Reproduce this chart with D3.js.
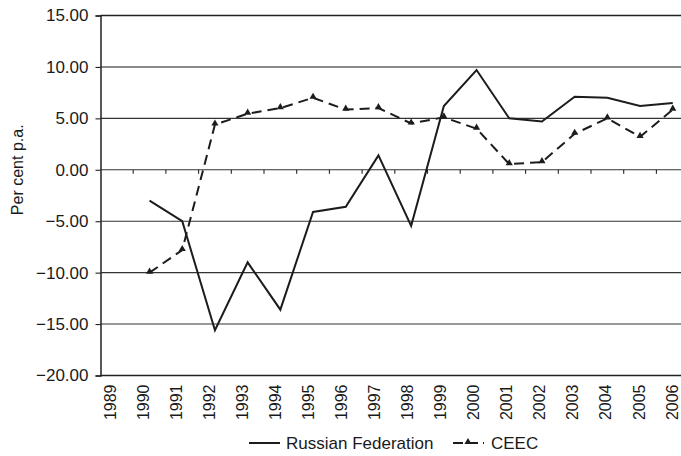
<!DOCTYPE html>
<html>
<head>
<meta charset="utf-8">
<script src="https://cdn.jsdelivr.net/npm/d3@7"></script>
<style>
  html, body { margin: 0; padding: 0; background: #fff; }
  svg { display: block; font-family: "Liberation Sans", Arial, Helvetica, sans-serif; }
</style>
</head>
<body>
<div id="chart"></div>
<script>
// Real GDP growth, per cent per year
const years = [1989, 1990, 1991, 1992, 1993, 1994, 1995, 1996, 1997, 1998,
               1999, 2000, 2001, 2002, 2003, 2004, 2005, 2006];
const russia = [null, -3.0, -5.0, -15.6, -9.0, -13.6, -4.1, -3.6, 1.4, -5.45,
                6.2, 9.7, 5.0, 4.7, 7.1, 7.0, 6.2, 6.5];
const ceec = [null, -10.0, -7.8, 4.4, 5.45, 6.0, 7.0, 5.85, 6.0, 4.5,
              5.1, 4.0, 0.55, 0.75, 3.5, 5.0, 3.2, 5.85];
const yTicks = [15, 10, 5, 0, -5, -10, -15, -20];
const seriesNames = ["Russian Federation", "CEEC"];

const W = 681, H = 456;
const plotLeft = 100.5, plotTop = 15.5, plotBottom = 375.5;
const step = 32.7;

const svg = d3.select("#chart").append("svg")
  .attr("width", W).attr("height", H);

const x = d3.scaleBand().domain(years)
  .range([plotLeft, plotLeft + step * years.length]).padding(0);
const cx = d => x(d) + x.bandwidth() / 2;
const xLabel = d3.scaleLinear().domain([years[0], years[years.length - 1]])
  .range([110, 672]);
const y = d3.scaleLinear().domain([-20, 15]).range([plotBottom, plotTop]);
const plotRight = x.range()[1];

// horizontal grid
svg.append("g").selectAll("line")
  .data(yTicks.filter(v => v !== 15 && v !== -20))
  .join("line")
  .attr("x1", plotLeft).attr("x2", plotRight)
  .attr("y1", d => y(d)).attr("y2", d => y(d))
  .attr("stroke", d => d === 10 ? "#8a8a8a" : "#333")
  .attr("stroke-width", d => d === 10 ? 2 : 1.1);

// frame: top and bottom lines
svg.append("line").attr("x1", plotLeft).attr("x2", plotRight)
  .attr("y1", y(15)).attr("y2", y(15)).attr("stroke", "#222").attr("stroke-width", 1.3);
svg.append("line").attr("x1", plotLeft).attr("x2", plotRight)
  .attr("y1", y(-20)).attr("y2", y(-20)).attr("stroke", "#222").attr("stroke-width", 1.3);

// y axis
const yAxis = d3.axisLeft(y).tickValues(yTicks).tickSize(5).tickPadding(7)
  .tickFormat(d => (d < 0 ? "\u2212" + d3.format(".2f")(-d) : d3.format(".2f")(d)));
const gy = svg.append("g").attr("transform", `translate(${plotLeft},0)`).call(yAxis);
gy.select(".domain").attr("stroke", "#222").attr("stroke-width", 1.5);
gy.selectAll(".tick line").attr("stroke", "#222").attr("stroke-width", 1.1);
gy.selectAll(".tick text").attr("font-size", 17).attr("fill", "#1a1a1a")
  .attr("font-family", "Liberation Sans, Arial, sans-serif");

// category ticks on the zero line
svg.append("g").selectAll("line")
  .data(years.slice(1))
  .join("line")
  .attr("x1", d => x(d)).attr("x2", d => x(d))
  .attr("y1", y(0)).attr("y2", y(0) + 4)
  .attr("stroke", "#222").attr("stroke-width", 1.1);

// year labels
svg.append("g").selectAll("text")
  .data(years)
  .join("text")
  .attr("transform", d => `translate(${xLabel(d)},${plotBottom + 9}) rotate(-90)`)
  .attr("text-anchor", "end")
  .attr("dy", "0.35em")
  .attr("font-size", 16)
  .attr("fill", "#1a1a1a")
  .text(d => d);

// y axis title
svg.append("text")
  .attr("transform", `translate(17,${y(0)}) rotate(-90)`)
  .attr("text-anchor", "middle")
  .attr("dy", "0.35em")
  .attr("font-size", 16)
  .attr("fill", "#1a1a1a")
  .text("Per cent p.a.");

const line = d3.line()
  .defined(d => d[1] !== null)
  .x(d => cx(d[0]))
  .y(d => y(d[1]));

const rusData = years.map((yr, i) => [yr, russia[i]]);
const ceecData = years.map((yr, i) => [yr, ceec[i]]);

svg.append("path").datum(rusData)
  .attr("d", line).attr("fill", "none")
  .attr("stroke", "#1c1c1c").attr("stroke-width", 2)
  .attr("stroke-linejoin", "miter");

svg.append("path").datum(ceecData)
  .attr("d", line).attr("fill", "none")
  .attr("stroke", "#1c1c1c").attr("stroke-width", 2)
  .attr("stroke-dasharray", "10,6");

const tri = d3.symbol().type(d3.symbolTriangle).size(22);
svg.append("g").selectAll("path")
  .data(ceecData.filter(d => d[1] !== null))
  .join("path")
  .attr("transform", d => `translate(${cx(d[0])},${y(d[1]) - 1})`)
  .attr("d", tri)
  .attr("fill", "#1c1c1c");

// legend
const lg = svg.append("g").attr("transform", "translate(0,443)");
lg.append("line").attr("x1", 249).attr("x2", 280).attr("y1", 0).attr("y2", 0)
  .attr("stroke", "#1c1c1c").attr("stroke-width", 2);
lg.append("text").attr("x", 286).attr("dy", "0.35em").attr("font-size", 17)
  .attr("fill", "#1a1a1a").text(seriesNames[0]);
lg.append("line").attr("x1", 453).attr("x2", 484).attr("y1", 0).attr("y2", 0)
  .attr("stroke", "#1c1c1c").attr("stroke-width", 2)
  .attr("stroke-dasharray", "10,5");
lg.append("path").attr("transform", "translate(468,-1)").attr("d", tri)
  .attr("fill", "#1c1c1c");
lg.append("text").attr("x", 491).attr("dy", "0.35em").attr("font-size", 17)
  .attr("fill", "#1a1a1a").text(seriesNames[1]);
</script>
</body>
</html>
